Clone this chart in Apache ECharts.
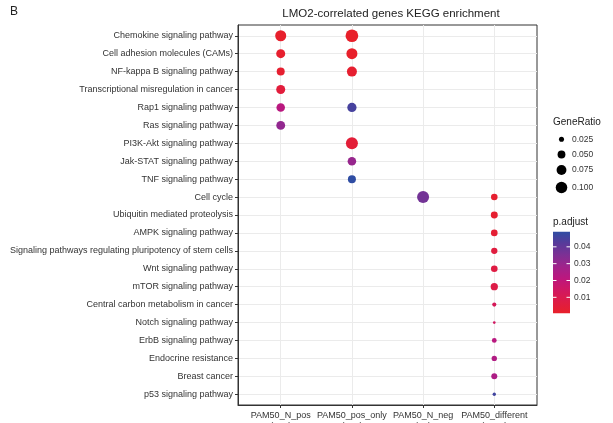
<!DOCTYPE html>
<html><head><meta charset="utf-8">
<script src="https://cdn.jsdelivr.net/npm/echarts@6/dist/echarts.min.js"></script>
<style>html,body{margin:0;padding:0;background:#fff}#c{width:613px;height:423px}</style>
</head><body><div id="c"></div>
<script>
// ---- data ----
const pathways = [
  'Chemokine signaling pathway','Cell adhesion molecules (CAMs)','NF-kappa B signaling pathway',
  'Transcriptional misregulation in cancer','Rap1 signaling pathway','Ras signaling pathway',
  'PI3K-Akt signaling pathway','Jak-STAT signaling pathway','TNF signaling pathway','Cell cycle',
  'Ubiquitin mediated proteolysis','AMPK signaling pathway',
  'Signaling pathways regulating pluripotency of stem cells','Wnt signaling pathway',
  'mTOR signaling pathway','Central carbon metabolism in cancer','Notch signaling pathway',
  'ErbB signaling pathway','Endocrine resistance','Breast cancer','p53 signaling pathway'
];
const groups = ['PAM50_N_pos\n(492)','PAM50_pos_only\n(225)','PAM50_N_neg\n(98)','PAM50_different\n(2269)'];
// GeneRatio per pathway (null = not enriched)
const ratioNpos    = [0.092,0.064,0.052,0.064,0.058,0.062,null,null,null,null,null,null,null,null,null,null,null,null,null,null,null];
const ratioPosOnly = [0.120,0.092,0.077,null,0.067,null,0.108,0.058,0.052,null,null,null,null,null,null,null,null,null,null,null,null];
const ratioNneg    = [null,null,null,null,null,null,null,null,null,0.108,null,null,null,null,null,null,null,null,null,null,null];
const ratioDiff    = [null,null,null,null,null,null,null,null,null,0.037,0.041,0.038,0.035,0.038,0.044,0.019,0.012,0.023,0.027,0.032,0.015];
// p.adjust per pathway
const padjNpos     = [0.001,0.0015,0.002,0.005,0.022,0.031,null,null,null,null,null,null,null,null,null,null,null,null,null,null,null];
const padjPosOnly  = [0.0006,0.0008,0.002,null,0.045,null,0.004,0.030,0.049,null,null,null,null,null,null,null,null,null,null,null,null];
const padjNneg     = [null,null,null,null,null,null,null,null,null,0.037,null,null,null,null,null,null,null,null,null,null,null];
const padjDiff     = [null,null,null,null,null,null,null,null,null,0.002,0.002,0.003,0.006,0.007,0.008,0.012,0.014,0.022,0.024,0.025,0.046];
const sizeLegendValues = [0.025,0.050,0.075,0.100];
const colorTicks = [0.01,0.02,0.03,0.04];
const padjMin = 0.0005, padjMax = 0.049;
const palette = ['#E8202A','#DE1C45','#D01862','#BC177E','#A0238B','#7D3094','#583A9A','#2F4DA3'];

// ---- build ----
const ratios = [ratioNpos, ratioPosOnly, ratioNneg, ratioDiff];
const padjs = [padjNpos, padjPosOnly, padjNneg, padjDiff];
const pts = [];
ratios.forEach((arr, gi) => arr.forEach((r, pi) => {
  if (r != null) pts.push([gi, pi, r, padjs[gi][pi]]);
}));
function diam(v){ return Math.max(2.5, Math.sqrt(Math.max(0, 1430*v - 10))); }
const font = 'Liberation Sans, Arial, sans-serif';

const chart = echarts.init(document.getElementById('c'), null, {renderer:'canvas'});
const graphics = [
  {type:'text', left:10, top:6, style:{text:'B', font:'12px '+font, fill:'#222'}},
  {type:'text', x:553, y:117, style:{text:'GeneRatio', font:'10px '+font, fill:'#222'}},
  {type:'text', x:553, y:217, style:{text:'p.adjust', font:'10px '+font, fill:'#222'}}
];
const legY = [139.3,154.5,170,187.5];
sizeLegendValues.forEach((v,i)=>{
  graphics.push({type:'circle', shape:{cx:561.5, cy:legY[i], r:diam(v)/2}, style:{fill:'#000'}});
  graphics.push({type:'text', x:572, y:legY[i], style:{text:v.toFixed(3), font:'8.5px '+font, fill:'#333', verticalAlign:'middle'}});
});
const barX=553, barTop=231.7, barH=81.6, barW=17;
graphics.push({type:'rect', shape:{x:barX,y:barTop,width:barW,height:barH}, style:{fill:new echarts.graphic.LinearGradient(0,1,0,0, palette.map((c,i)=>({offset:i/(palette.length-1), color:c})))}});
colorTicks.forEach(t=>{
  const y = barTop + barH - (t-padjMin)/(padjMax-padjMin)*barH;
  graphics.push({type:'line', shape:{x1:barX,y1:y,x2:barX+3.5,y2:y}, style:{stroke:'#fff', lineWidth:1}});
  graphics.push({type:'line', shape:{x1:barX+barW-3.5,y1:y,x2:barX+barW,y2:y}, style:{stroke:'#fff', lineWidth:1}});
  graphics.push({type:'text', x:574, y:y, style:{text:t.toFixed(2), font:'8.5px '+font, fill:'#333', verticalAlign:'middle'}});
});

chart.setOption({
  animation:false,
  backgroundColor:'#fff',
  title:{text:'LMO2-correlated genes KEGG enrichment', left:386, top:3, textAlign:'center',
    textStyle:{fontFamily:font, fontSize:11.5, fontWeight:'normal', color:'#222'}},
  grid:{left:238, right:76, top:25, bottom:18, containLabel:false, outerBoundsMode:'none',
    show:true, borderColor:'#333', borderWidth:1, backgroundColor:'#fff'},
  xAxis:{type:'value', min:-0.6, max:3.6,
    axisLine:{show:true, onZero:false, lineStyle:{color:'#333'}},
    axisTick:{show:true, length:3, lineStyle:{color:'#333'}, customValues:[0,1,2,3]},
    axisLabel:{customValues:[0,1,2,3], formatter:v=>groups[Math.round(v)], fontFamily:font, fontSize:9, color:'#333', lineHeight:11, margin:5},
    splitLine:{show:true, lineStyle:{color:'#EBEBEB', width:1}}},
  yAxis:{type:'value', min:-0.6, max:20.6, inverse:true,
    axisLine:{show:true, onZero:false, lineStyle:{color:'#333'}},
    axisTick:{show:true, length:3, lineStyle:{color:'#333'}, customValues:pathways.map((_,i)=>i)},
    axisLabel:{customValues:pathways.map((_,i)=>i), formatter:v=>pathways[Math.round(v)], fontFamily:font, fontSize:9, color:'#333', margin:5},
    splitLine:{show:true, lineStyle:{color:'#EBEBEB', width:1}}},
  visualMap:{show:false, type:'continuous', min:padjMin, max:padjMax, dimension:3, seriesIndex:0, inRange:{color:palette}},
  series:[{type:'scatter', data:pts, symbolSize:d=>diam(d[2]), itemStyle:{opacity:1}, z:3}],
  graphic:graphics
});
</script></body></html>
